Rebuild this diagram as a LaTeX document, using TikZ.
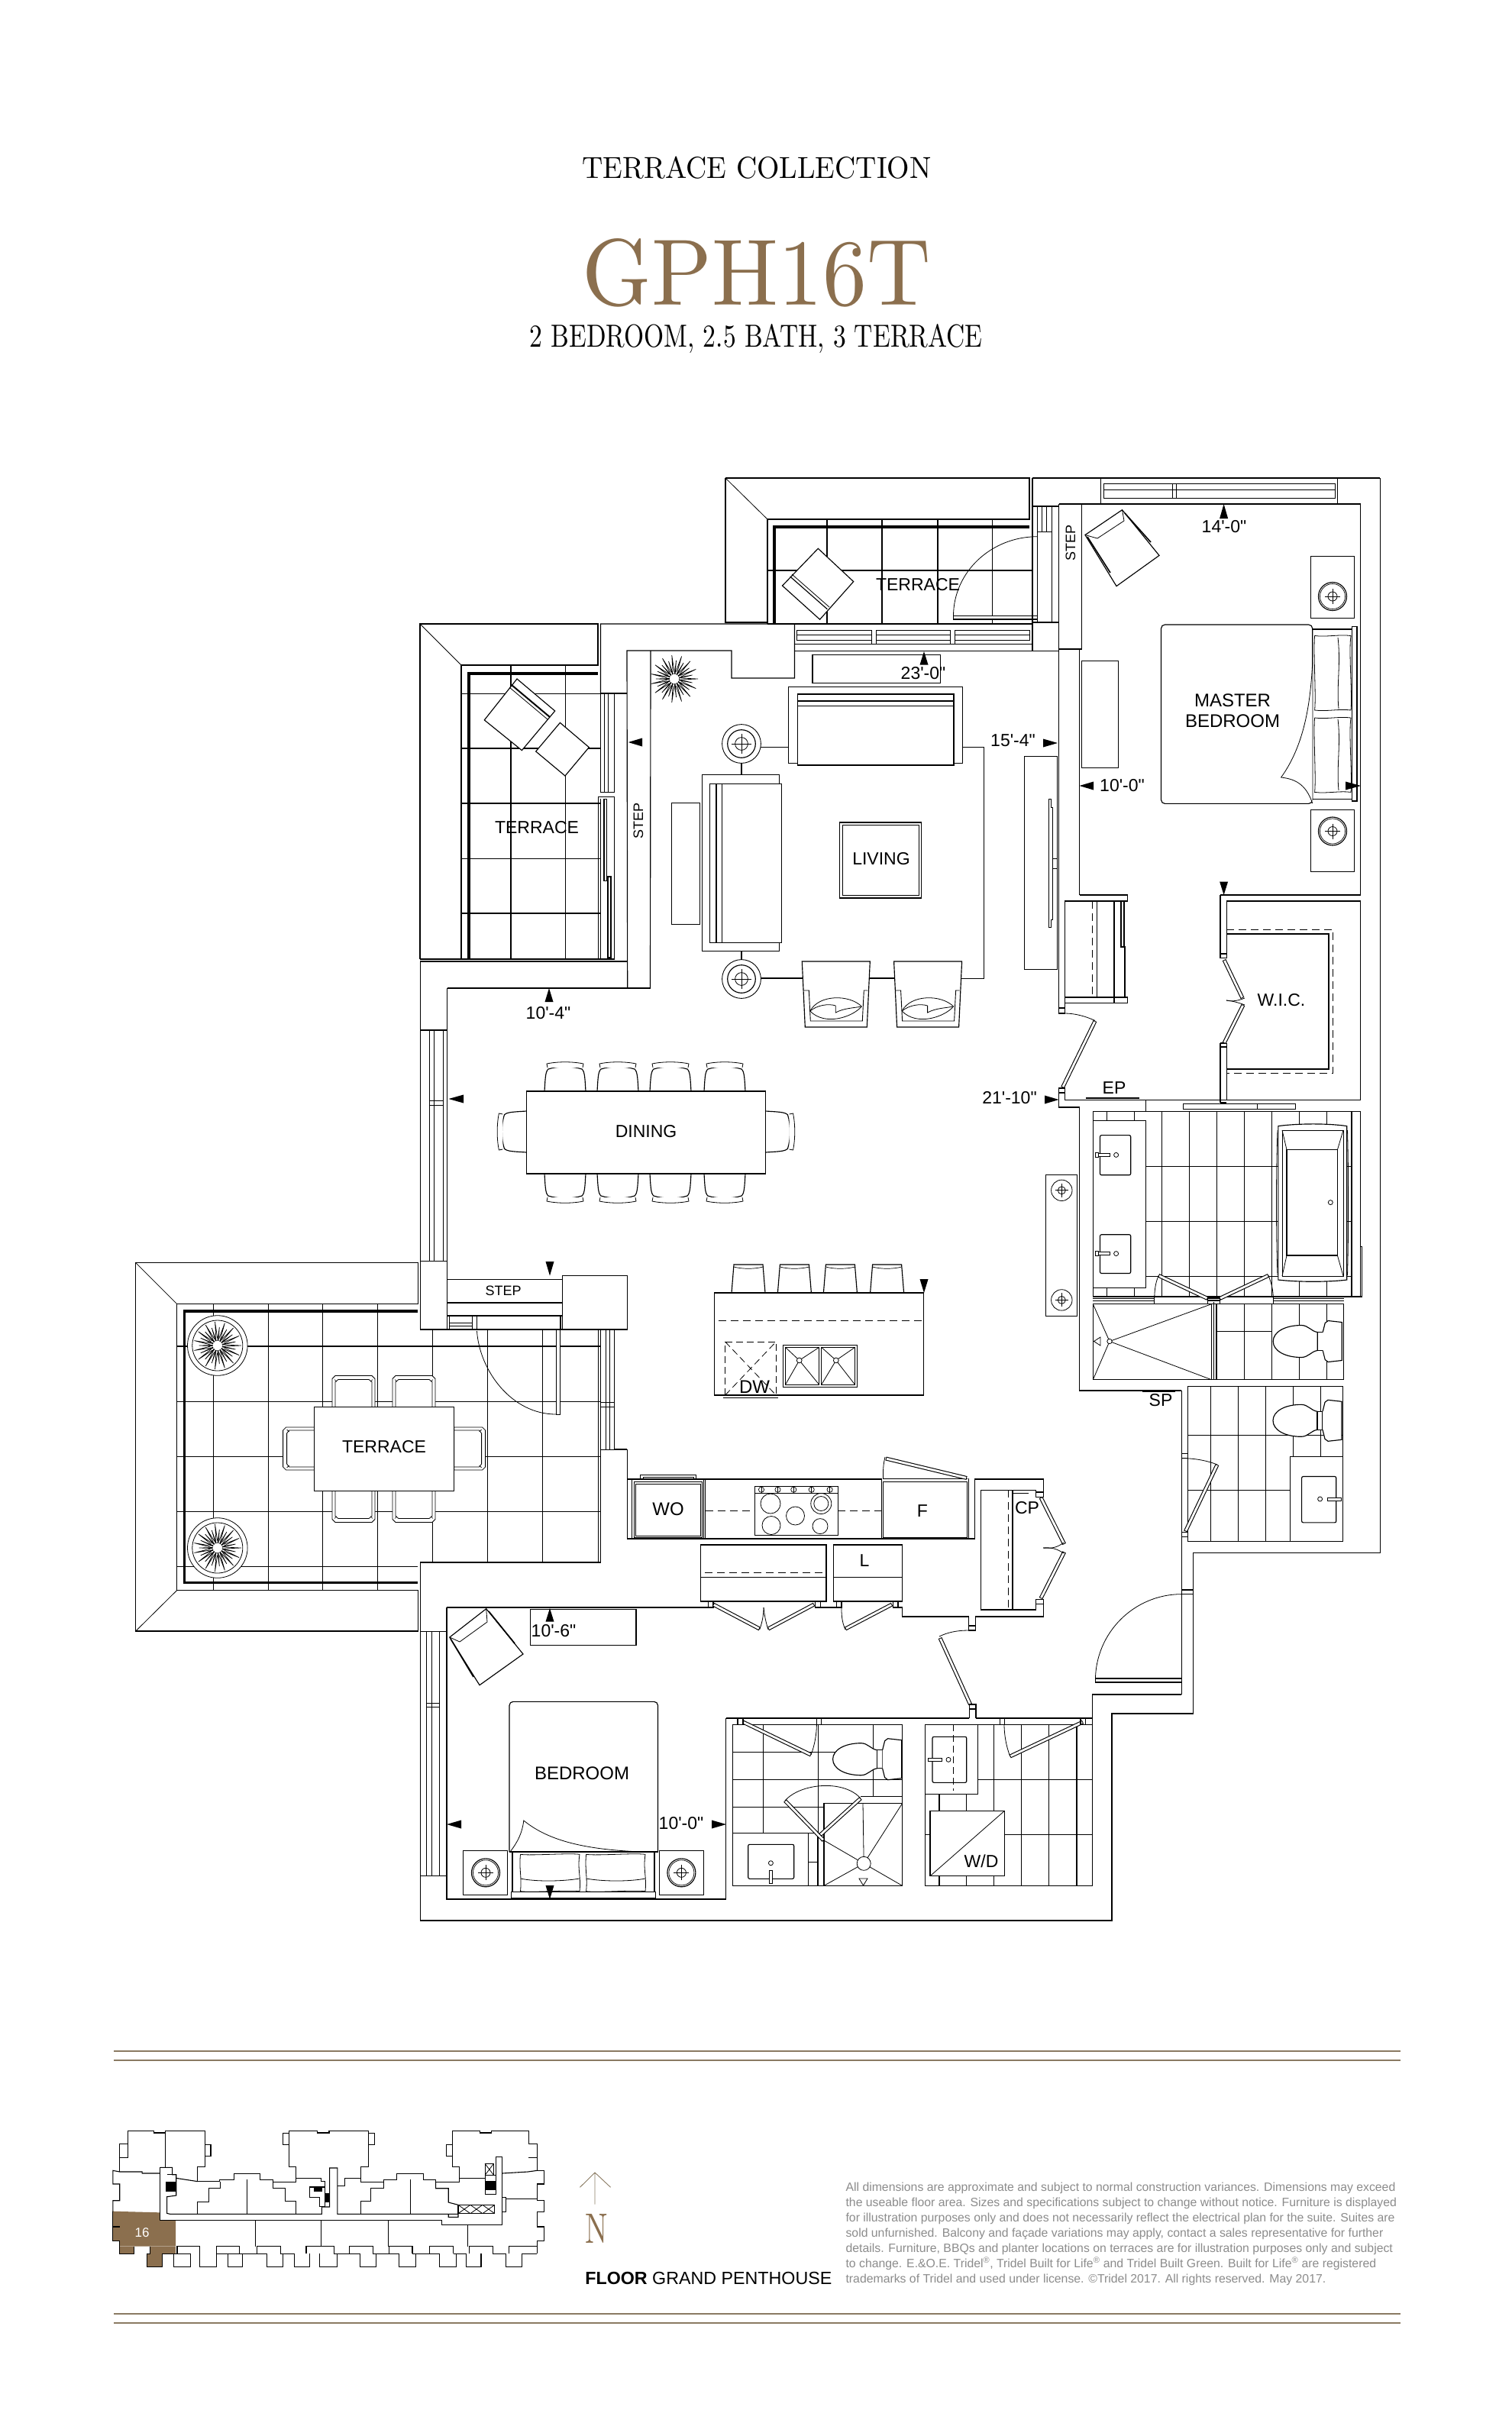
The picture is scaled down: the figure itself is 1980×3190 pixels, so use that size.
\documentclass[tikz,border=0pt]{standalone}
\usepackage{fontspec}
\usepackage{graphicx}
\newfontfamily\arialf{Liberation Sans}
\newfontfamily\discf{Liberation Sans}
\definecolor{brn}{HTML}{8B6F4E}
\definecolor{rulec}{HTML}{8A7A62}
\definecolor{discc}{HTML}{8C8C8C}
\newcommand{\Rc}[4]{\draw (#1,#2) rectangle (#3,#4);}
\newcommand{\Rt}[4]{\draw[line width=.8pt] (#1,#2) rectangle (#3,#4);}
\newcommand{\Rw}[4]{\draw[fill=white] (#1,#2) rectangle (#3,#4);}
\newcommand{\Ln}[4]{\draw (#1,#2) -- (#3,#4);}
\newcommand{\Lt}[4]{\draw[line width=.8pt] (#1,#2) -- (#3,#4);}
\newcommand{\Av}[3]{\fill (#1,#2) -- (#1-5.5,#3) -- (#1+5.5,#3) -- cycle;}
\newcommand{\Ah}[3]{\fill (#2,#1) -- (#3,#1-5.5) -- (#3,#1+5.5) -- cycle;}
\newcommand{\Dr}[4]{\draw[line width=5pt] (#1,#2)--(#3,#4); \draw[white,line width=2.8pt,shorten <=1pt,shorten >=1pt] (#1,#2)--(#3,#4);}
\newcommand{\Lamp}[3]{\draw[fill=white,line width=.9pt] (#1,#2) circle (#3); \draw[fill=white] (#1,#2) circle (#3*0.72); \draw[line width=.8pt] (#1,#2) circle (#3*0.33); \draw[line width=.8pt] (#1-#3*0.5,#2)--(#1+#3*0.5,#2) (#1,#2-#3*0.5)--(#1,#2+#3*0.5);}
\newcommand{\Dchair}[3]{\begin{scope}[shift={(#1,#2)},rotate=#3]
\draw[fill=white] (-27,0) .. controls (-26,-15) and (-26,-26) .. (-22,-29) .. controls (-10,-33) and (10,-33) .. (22,-29) .. controls (26,-26) and (26,-15) .. (27,0);
\draw[fill=white,line width=.8pt] (-23,-31) -- (-24,-36) .. controls (-10,-39) and (10,-39) .. (24,-36) -- (23,-31);
\end{scope}}
\newcommand{\Stool}[1]{\draw[fill=white] (#1-22,1693)--(#1-19,1656)--(#1+19,1656)--(#1+22,1693);
\draw[line width=.7pt] (#1-19,1659)..controls (#1-8,1662) and (#1+8,1662)..(#1+19,1659);}
\newcommand{\Tchair}[3]{\begin{scope}[shift={(#1,#2)},rotate=#3]
\draw[fill=white,line width=.8pt] (-28,0)--(-28,-37)--(-24,-41)--(24,-41)--(28,-37)--(28,0)--cycle;
\draw[line width=.8pt] (-24,0)--(-24,-33)--(-20,-36)--(20,-36)--(24,-33)--(24,0);
\draw[line width=.6pt] (-25,-36)--(-22,-33) (25,-36)--(22,-33);
\end{scope}}
\newcommand{\Lchair}[1]{\begin{scope}[shift={(#1,0)}]
\draw (0,1259)--(89,1259)--(85,1345)--(4,1345)--cycle;
\draw[line width=.9pt] (2,1297)--(9,1297)--(11,1337)--(79,1337)--(81,1297)--(86,1297);
\draw[line width=.8pt] (10.5,1324) .. controls (22,1302) and (62,1302) .. (78,1318) .. controls (66,1332) and (30,1344) .. (10.5,1324);
\draw[line width=.8pt] (10.5,1324) .. controls (20,1316) and (35,1314) .. (44,1317) -- (44,1326) .. controls (55,1320) and (68,1320) .. (78,1318);
\end{scope}}
\newcommand{\Toilet}[2]{\begin{scope}[shift={(#1,#2)}]
\draw[fill=white] (0,0) .. controls (0,-12) and (15,-21) .. (37,-21) .. controls (46,-21) and (50,-13) .. (58,-12) -- (58,12) .. controls (50,13) and (46,21) .. (37,21) .. controls (15,21) and (0,12) .. (0,0);
\draw[fill=white] (58,-12) rectangle (65,12);
\draw[fill=white] (65,-12) -- (68,-24) -- (72,-27) -- (90,-25) -- (90,25) -- (72,27) -- (68,24) -- (65,12);
\end{scope}}
\newcommand{\Plant}[3]{\begin{scope}[shift={(#1,#2)}]
\foreach \a in {0,24,...,336}{\draw[fill=white,line width=.7pt] (\a-6:#3*0.3) -- (\a:#3) -- (\a+6:#3*0.3);}
\foreach \a in {12,36,...,348}{\draw[fill=white,line width=.7pt] (\a-5:#3*0.2) -- (\a:#3*0.78) -- (\a+5:#3*0.2);}
\end{scope}}
\newcommand{\Pillow}[4]{\draw[line width=.8pt] (#1,#2) .. controls (#1+15,#2+2) and (#3-15,#2-2) .. (#3,#2) .. controls (#3-3,#2+20) and (#3+2,#4-20) .. (#3,#4) .. controls (#3-15,#4-2) and (#1+15,#4+2) .. (#1,#4) .. controls (#1+2,#4-20) and (#1-2,#2+20) .. (#1,#2);}
\begin{document}
\begin{tikzpicture}[x=1pt,y=-1pt,line width=1.15pt,
 lbl/.style={font=\arialf\fontsize{23}{23}\selectfont,inner sep=0pt},
 small/.style={font=\arialf\fontsize{18}{18}\selectfont,inner sep=0pt},
 th/.style={line width=3.2pt},
 thin/.style={line width=.8pt},
 dsh/.style={dash pattern=on 10pt off 6pt}]
\fill[white] (0,0) rectangle (1980,3190);
\useasboundingbox (0,0) rectangle (1980,3190);
%% titles
\node[anchor=base west,inner sep=0pt] (title1) at (762,233) {\resizebox{457pt}{28.5pt}{TERRACE COLLECTION}};
\node[anchor=base west,inner sep=0pt,text=brn] (title2) at (762,399) {\resizebox{456pt}{87pt}{GPH16T}};
\node[anchor=base west,inner sep=0pt] (title3) at (693,454) {\resizebox{593pt}{30pt}{2 BEDROOM, 2.5 BATH, 3 TERRACE}};
%% top terrace
\foreach \x in {1083,1155,1228,1299.5}{\Ln{\x}{680}{\x}{817}}
\Ln{1005}{747}{1352}{747}
\draw (950,626)--(1348,626)--(1348,680)--(1005,680)--(1005,817);
\draw (950,626)--(950,815)--(1005,815);
\draw[thin] (950,626)--(1005,680);
\draw[th] (1014,817)--(1014,690)--(1348,690);
\draw[fill=white] (1071.3,718.3)--(1117.7,761.6)--(1073.6,811.2)--(1024.5,767)--cycle;
\draw (1034.7,755)--(1083.4,797.8);
\draw[line width=.8pt] (1037,752)--(1086,795);
%% top terrace door
\draw[thin] (1248.5,806.7) arc[start angle=180,end angle=270,x radius=110,y radius=104];
\Rw{1248.5}{806.7}{1358.4}{811}
%% frame between terrace and master
\Ln{1352}{626}{1352}{852}
\Ln{1352}{626}{1807.4}{626}
\Ln{1352}{663}{1386.6}{663}
\Ln{1352}{815}{1386.6}{815}
\Rt{1358.4}{663}{1377}{815}
\Lt{1358.4}{696}{1377}{696}
\Lt{1364}{663}{1364}{696}
\Lt{1370}{663}{1370}{696}
\Ln{1005}{817}{1352}{817}
%% strip below top terrace
\Ln{1040.5}{852.2}{1386.6}{852.2}
\Rt{1043}{825.4}{1141.4}{838}
\Lt{1043}{831.7}{1141.4}{831.7}
\Rt{1147}{825.4}{1244.8}{838}
\Lt{1147}{831.7}{1244.8}{831.7}
\Rt{1250.6}{825.4}{1348.4}{838}
\Lt{1250.6}{831.7}{1348.4}{831.7}
\Ln{1040.5}{843.3}{1352}{843.3}
\Lt{1141.4}{838}{1141.4}{843.3}
\Lt{1147}{838}{1147}{843.3}
\Lt{1244.8}{838}{1244.8}{843.3}
\Lt{1250.6}{838}{1250.6}{843.3}
%% left terrace
\foreach \x in {669,740.5}{\Ln{\x}{871}{\x}{1256}}
\foreach \y in {908.5,980,1052,1124.5,1196}{\Ln{604}{\y}{786.5}{\y}}
\draw (550,1256)--(550,817)--(783,817)--(783,871)--(604,871)--(604,1256);
\draw[thin] (550,817)--(604,871);
\draw[th] (614,1256)--(614,882)--(783,882);
\Ln{550}{1256}{804.4}{1256}
\Ln{550}{1259}{821.7}{1259}
\draw[fill=white] (677,889)--(726.7,931)--(683.4,982.6)--(634.3,942.9)--cycle;
\draw[line width=.8pt] (667,900)--(717,942);
\draw[line width=2pt] (670,897)--(720,939);
\draw[fill=white] (733.4,946.4)--(771.3,978.6)--(740,1016)--(701.7,984)--cycle;
%% wall block
\draw (786.5,908)--(786.5,817)--(1040.5,817)--(1040.5,888)--(958,888)--(958,852)--(821,852)--(821.7,1294);
\Ln{852}{852}{851.5}{1294}
\Ln{786.5}{908}{821}{908}
\Ln{585.7}{1294}{851.5}{1294}
\Ln{821.7}{1259}{821.7}{1294}
\Rt{786.5}{908}{804}{1037.5}
\Lt{791.4}{908}{791.4}{1037.5}
\Lt{796}{908}{796}{1037.5}
\Rt{783.4}{1043}{804.4}{1256}
\Rc{791}{1046.4}{794.5}{1153.6}
\Rc{796}{1148}{800}{1254}
\Lt{786.5}{1046}{786.5}{1256}
\Plant{883}{889}{31}
\Ah{972}{822.7}{841}
\node[small,rotate=90] (stepa) at (836,1075) {STEP};
\node[lbl] (terl) at (703,1084) {TERRACE};
\node[lbl] (tert) at (1202,766) {TERRACE};
%% living
\Rc{1064}{857.6}{1231.5}{894.6}
\Ln{996}{978.6}{1032.5}{978.6}
\draw (1260.5,978.3)--(1288.3,978.3)--(1288.3,1281.4)--(1259,1281.4);
\Ln{971}{999}{971}{1014.3}
\Ln{971}{1245.5}{971}{1257}
\Ln{996}{1281}{1051}{1281}
\Ln{1139.4}{1281}{1170.6}{1281}
\Rc{1032.5}{899.5}{1260.5}{999.5}
\Rw{1044.5}{909}{1249}{1002}
\Ln{1044.5}{918}{1249}{918}
\Ln{1044.5}{924.5}{1249}{924.5}
\Rc{919.5}{1014.3}{1020.4}{1245.5}
\Rw{929.4}{1026.3}{1023.6}{1234.4}
\Ln{938}{1026.3}{938}{1234.4}
\Ln{945.4}{1026.3}{945.4}{1234.4}
\Rc{879.4}{1051.3}{916.4}{1210.3}
\Lamp{971}{974}{25.4}
\Lamp{971}{1282}{25.4}
\Rc{1099.5}{1077}{1206.6}{1176}
\Rt{1103}{1080.5}{1203}{1172.5}
\node[lbl] (liv) at (1154,1125) {LIVING};
\Lchair{1050.3}
\Lchair{1170.6}
\Rc{1341.4}{990.4}{1384.5}{1269.4}
\draw[line width=.9pt] (1373,1046.6)--(1376,1046.6)--(1376,1057)--(1378.5,1057)--(1378.5,1204)--(1376,1204)--(1376,1214.2)--(1373,1214.2)--cycle;
\Lt{1378.5}{1124}{1384.5}{1124}
\Lt{1378.5}{1137}{1384.5}{1137}
%% master bedroom
\draw (1386.6,660)--(1781.7,660)--(1781.7,1172)--(1598,1172);
\Ln{1386.6}{660}{1386.6}{1320}
\draw (1386.6,850)--(1416.4,850)--(1416.4,660);
\Ln{1413.5}{850}{1413.5}{1172}
\draw (1413.5,1172)--(1476.5,1172)--(1476.5,1180)--(1394.4,1180)--(1394.4,1313.6)--(1476.5,1313.6)--(1476.5,1306)--(1394.4,1306);
\Ln{1459}{1180}{1459}{1313.6}
\draw[dsh,thin] (1430.5,1180)--(1430.5,1306);
\Ln{1436.5}{1180}{1436.5}{1306}
\draw (1468,1180)--(1468,1240)--(1473,1240)--(1473,1306);
\draw (1472,1180)--(1472,1240);
\Rc{1386.6}{1320}{1394.4}{1327}
\Ln{1394.4}{1313.6}{1394.4}{1320}
\draw[thin] (1394.4,1327) .. controls (1408,1327) and (1422,1331) .. (1434,1336.5);
\Dr{1391.5}{1424}{1434}{1337}
\Rc{1386.6}{1425}{1394.4}{1431}
\draw (1394.4,1431)--(1394.4,1440.4)--(1781.7,1440.4);
\draw (1386.6,1431)--(1386.6,1450)--(1413.5,1450)--(1413.5,1821)--(1547.4,1821);
%% top window master
\Rc{1441.7}{626}{1751.4}{660}
\Rt{1445}{633}{1748}{652}
\Lt{1445}{641}{1748}{641}
\Rt{1535}{633}{1540}{652}
%% step master
\node[small,rotate=90] (stepb) at (1402,711) {STEP};
%% master furniture
\draw[fill=white] (1421,700.5)--(1469.5,667.7)--(1518,727.4)--(1462,767.6)--cycle;
\draw[line width=.8pt] (1421,700.5)--(1437,705)--(1472,682)--(1469.5,667.7);
\draw[line width=1.6pt] (1424,703)--(1454,750);
\draw[line width=1.6pt] (1473,672)--(1507,710);
\Rc{1416.4}{865.2}{1464.5}{1005.3}
\draw[rounded corners=5pt] (1520.5,818) rectangle (1718.7,1052.4);
\draw[line width=.8pt,fill=white] (1718.7,867) .. controls (1716,930) and (1705,980) .. (1677.6,1018) .. controls (1695,1020) and (1710,1026) .. (1718.7,1052);
\draw (1718.7,824)--(1770.5,824) (1718.7,1046.6)--(1770.5,1046.6);
\Rc{1770.5}{820.4}{1777}{1049}
\Pillow{1721.6}{832.5}{1769}{930}
\Pillow{1721.6}{940}{1769}{1037.4}
\draw[line width=.8pt] (1752,835)..controls (1756,870) and (1750,900) ..(1753,928);
\draw[line width=.8pt] (1752,942)..controls (1756,975) and (1750,1005) ..(1753,1035);
\Rc{1716.6}{728.6}{1773.8}{809.5}
\Rc{1716.6}{1060.4}{1773.8}{1141.3}
\foreach \y in {781,1088.5}{\draw (1745,\y) circle (18.5); \draw[line width=.7pt] (1745,\y) circle (16.5); \draw[thin] (1745,\y) circle (6); \draw[thin] (1735,\y)--(1755,\y) (1745,\y-10)--(1745,\y+10);}
\node[lbl,font=\arialf\fontsize{24}{24}\selectfont] (mast) at (1614,917) {MASTER};
\node[lbl,font=\arialf\fontsize{24}{24}\selectfont] (bedr) at (1614,944) {BEDROOM};
%% WIC
\draw (1606.3,1254.5)--(1606.3,1180)--(1781.7,1180)--(1781.7,1440.4);
\draw (1598,1172)--(1598,1254.5)--(1606.3,1254.5);
\Ln{1598}{1249}{1606.3}{1249}
\draw (1606.3,1366)--(1606.3,1440.4);
\draw (1598,1366)--(1606.3,1366);
\Ln{1598}{1366}{1598}{1444}
\Ln{1598}{1444}{1606.3}{1444}
\Ln{1598}{1371}{1606.3}{1371}
\draw (1606,1223)--(1740,1223)--(1740,1400)--(1606,1400);
\draw[dsh,thin] (1606,1217)--(1745.6,1217)--(1745.6,1405.4)--(1606,1405.4);
\Dr{1603}{1257}{1627}{1307}
\Dr{1603}{1366}{1628}{1316}
\draw[thin] (1606,1310) .. controls (1615,1312) and (1622,1310) .. (1630,1307);
\draw[thin] (1606,1310) .. controls (1615,1311) and (1622,1313) .. (1630,1316);
\node[lbl] (wic) at (1678,1310) {W.I.C.};
%% EP and rods
\Ln{1422.2}{1438}{1491.5}{1438}
\node[lbl] (ep) at (1459,1425) {EP};
\Rt{1549.5}{1445.5}{1696.3}{1452.6}
\Lt{1646.5}{1445.5}{1646.5}{1452.6}
\Ln{1598}{1455.5}{1696}{1455.5}
\Ln{1500.6}{1440.4}{1500.6}{1455.5}
%% master bath
\foreach \x in {1521.3,1557.4,1593.4,1629.5,1665.6,1701.7,1737.7,1770}{\Ln{\x}{1455.5}{\x}{1698}}
\foreach \y in {1527.8,1599.5,1671.3}{\Ln{1500.6}{\y}{1770}{\y}}
\Rc{1431.3}{1455.5}{1781.7}{1698}
\draw (1781.7,1632.5)--(1783.8,1632.5)--(1783.8,1698)--(1781.7,1698);
\foreach \x in {1449.6,1485.7}{\Ln{\x}{1455.5}{\x}{1467.5} \Ln{\x}{1686.6}{\x}{1698}}
\Rw{1431.3}{1467.5}{1500.6}{1686.6}
\foreach \y/\z/\d in {1486.6/1538.8/1512.4,1616.7/1667.5/1641.6}{
 \draw[rounded corners=2pt] (1440.5,\y) rectangle (1480.7,\z);
 \draw[thin] (1461.6,\d) circle (3);
 \draw[thin,fill=white] (1436,\d-2)--(1453,\d-2)--(1453,\d+2)--(1436,\d+2)--cycle;
 \draw[thin,fill=white] (1434.2,\d-3) rectangle (1438,\d+3);}
\draw[fill=white] (1673.9,1474.6) .. controls (1700,1471) and (1740,1471) .. (1763.8,1474.6) -- (1763.8,1676) .. controls (1740,1679) and (1700,1679) .. (1673.9,1676) -- cycle;
\draw[thin] (1673,1480) .. controls (1671,1530) and (1671,1620) .. (1673,1670) (1764.5,1480) .. controls (1766,1530) and (1766,1620) .. (1764.5,1670);
\draw[thin] (1679,1480)--(1759,1480)--(1759,1671)--(1679,1671)--cycle;
\Rc{1685}{1505.7}{1751.4}{1644}
\Lt{1679}{1480}{1685}{1505.7}
\Lt{1759}{1480}{1751.4}{1505.7}
\Lt{1679}{1671}{1685}{1644}
\Lt{1759}{1671}{1751.4}{1644}
\draw[thin] (1742.3,1574.6) circle (3);
%% shower & WC
\Rc{1431.3}{1707.7}{1759.7}{1806.7}
\draw (1431.3,1700.5)--(1511.8,1700.5) (1431.3,1703.5)--(1511.8,1703.5);
\draw (1667.3,1700.5)--(1759.7,1700.5) (1667.3,1703.5)--(1759.7,1703.5);
\Ln{1511.8}{1698}{1511.8}{1707.7}
\Ln{1667.3}{1698}{1667.3}{1707.7}
\Ln{1581.4}{1700}{1597.2}{1700}
\Ln{1581.4}{1703}{1597.2}{1703}
\Ln{1581.4}{1698}{1581.4}{1707.7}
\Ln{1597.2}{1698}{1597.2}{1707.7}
\Ln{1586.4}{1707.7}{1586.4}{1806.7}
\Ln{1589.5}{1705}{1589.5}{1806.7}
\Ln{1593}{1707.7}{1593}{1806.7}
\Dr{1517.2}{1670.3}{1581.4}{1700.5}
\Dr{1597.2}{1700.5}{1661}{1670.3}
\draw[thin] (1517.2,1670.3) .. controls (1513,1680) and (1511.8,1690) .. (1511.8,1700);
\draw[thin] (1661,1670.3) .. controls (1665,1680) and (1667.3,1690) .. (1667.3,1700);
\foreach \x/\y in {1431.3/1707.7,1431.3/1806.7,1586.4/1707.7,1586.4/1806.7}{\draw[thin] (1453,1756.5)--(\x,\y);}
\draw[thin,fill=white] (1453,1756.5) circle (3.2);
\draw[thin] (1441,1751)--(1432.5,1756.5)--(1441,1762)--cycle;
\foreach \x in {1629.5,1665.6,1701.7,1737.7}{\Ln{\x}{1707.7}{\x}{1806.7}}
\Ln{1593}{1743.5}{1665.6}{1743.5}
\Toilet{1667.2}{1756.5}
%% console
\Rc{1369.6}{1538.8}{1410.6}{1723.4}
\foreach \y in {1558.8,1702.4}{\draw[thin] (1390.3,\y) circle (13.7); \draw[thin] (1390.3,\y) circle (5); \draw[thin] (1382,\y)--(1398.5,\y) (1390.3,\y-9)--(1390.3,\y+9);}
%% powder
\Ln{1496.4}{1822.5}{1538.7}{1822.5}
\node[lbl] (sp) at (1520,1834) {SP};
\foreach \x in {1585.6,1621.6,1657.7,1693.8,1729.4}{\Ln{\x}{1815.8}{\x}{2018.7}}
\Ln{1555.3}{1879.4}{1758.5}{1879.4}
\Ln{1555.3}{1951.7}{1689.6}{1951.7}
\Rc{1555.3}{1815.8}{1758.5}{2018.7}
\Rw{1689.6}{1907.2}{1758.5}{2018.7}
\draw[rounded corners=2pt] (1704.6,1933.5) rectangle (1749.8,1993.8);
\draw[thin] (1728.6,1963) circle (3);
\draw[thin,fill=white] (1738,1961)--(1756,1961)--(1756,1965)--(1738,1965)--cycle;
\Toilet{1667}{1860.3}
\Rc{1547.4}{1903.3}{1555.3}{1909.6}
\Rc{1547.4}{2006.7}{1555.3}{2012.4}
\draw[thin] (1547.4,1909.6) .. controls (1565,1909.6) and (1582,1913) .. (1594,1918);
\Dr{1552.4}{2005.3}{1594}{1918}
%% entrance
\Ln{1547.4}{1821}{1547.4}{2219}
\draw (1807.4,626)--(1807.4,2033.5)--(1562.8,2033.5)--(1562.8,2244)--(1456,2244)--(1456,2515)--(550.5,2515)--(550.5,2046);
\Ln{1547.4}{2082}{1562.8}{2082}
\Ln{1547.4}{2087.6}{1562.8}{2087.6}
\draw[thin] (1547.4,2087.6) arc[start angle=270,end angle=180,radius=113];
\Rc{1434.4}{2198}{1547.4}{2203}
\draw (1547.4,2219)--(1430.6,2219)--(1430.6,2258);
%% kitchen walls
\draw (821.4,1898)--(821.4,2015)--(1276.5,2015)--(1276.5,1937)--(1366.7,1937)--(1366.7,1954);
\Rc{1356.8}{1954}{1366.7}{1960.4}
\Rc{1356.8}{2094.3}{1366.7}{2100.4}
\draw (1366.7,2100.4)--(1366.7,2117)--(1277.4,2117)--(1277.4,2129);
\draw (1356.8,1954)--(1356.8,1951.4)--(1284.4,1951.4)--(1284.4,2108)--(1356.8,2108)--(1356.8,2100.4);
\Ln{1326}{1951.4}{1326}{2108}
\draw[dsh,thin] (1320.3,1951.4)--(1320.3,2108);
\Lt{1326}{1955}{1347}{1955}
\Dr{1363}{1961}{1393.6}{2022}
\Dr{1363}{2093}{1393.6}{2032.5}
\draw[thin] (1366,2027) .. controls (1376,2028) and (1384,2027) .. (1393,2020);
\draw[thin] (1366,2027) .. controls (1376,2026) and (1384,2028) .. (1393,2034);
\node[lbl] (cp) at (1345,1975) {CP};
%% WO, cooktop
\Rt{827.7}{1937}{921.8}{2015}
\Rt{830}{1940}{919.6}{2013}
\Rt{832.5}{1943.6}{917.5}{2011.8}
\draw[line width=.8pt] (838.5,1937)--(838.5,1931.4)--(911.4,1931.4)--(911.4,1937);
\draw[line width=.8pt] (842,1937)--(842,1934.4)--(908,1934.4)--(908,1937);
\Ln{923.5}{1937}{923.5}{2015}
\Ln{821.7}{1937}{1154.7}{1937}
\Ln{821.4}{1937}{821.4}{2015}
\node[lbl,font=\arialf\fontsize{24}{24}\selectfont] (wo) at (875,1976) {WO};
\draw[dsh,thin] (923.5,1978)--(988.6,1978);
\draw[dsh,thin] (1097.4,1978)--(1154.7,1978);
\Rc{988.6}{1946.4}{1097.4}{2010.7}
\Ln{988.6}{1955.7}{1097.4}{1955.7}
\foreach \x in {997,1018.5,1039.3,1062.7,1086.6}{\draw[line width=.7pt] (\x,1950.7) circle (3.6); \draw[line width=.7pt] (\x,1947)--(\x,1954.5);}
\draw[thin] (1009,1969) circle (13);
\draw[thin] (1010,1997.5) circle (12);
\draw[thin] (1041.5,1985) circle (12);
\draw[thin] (1075.3,1969) circle (13.5);
\draw[thin] (1075.3,1969) circle (9.5);
\draw[thin] (1074,1998.6) circle (10);
%% fridge
\Ln{1154.7}{1937}{1154.7}{2015}
\Rt{1156.4}{1940}{1266.5}{2013}
\Lt{1156.4}{1936}{1266.5}{1936}
\Ln{1268.7}{1936}{1268.7}{2015}
\Dr{1160}{1910}{1266}{1935.5}
\draw[thin] (1159,1908) .. controls (1156.5,1918) and (1156.4,1926) .. (1156.4,1936);
\node[lbl] (fr) at (1208,1979) {F};
%% closets
\Rc{917.5}{2023}{1082}{2097}
\Ln{917.5}{2065.7}{1082}{2065.7}
\draw[dsh,thin] (923,2059.6)--(1082,2059.6);
\Rc{1091.4}{2023}{1181.5}{2097}
\Ln{1091.4}{2065.7}{1181.5}{2065.7}
\node[lbl] (lc) at (1132,2044) {L};
\Ln{585}{2105}{927.4}{2105}
\Rc{927.4}{2097}{934}{2105}
\Rc{1067.5}{2097}{1074.4}{2105}
\Ln{1074.4}{2105}{1095.7}{2105}
\Rc{1095.7}{2097}{1102}{2105}
\Rc{1169.4}{2097}{1176}{2105}
\draw (1176,2105)--(1181.5,2105)--(1181.5,2117)--(1268.7,2117)--(1268.7,2129);
\Dr{934}{2101}{994.7}{2133}
\Dr{1066}{2101}{1006}{2133}
\draw[thin] (994.7,2134) .. controls (998,2125) and (1000,2115) .. (1000,2105);
\draw[thin] (1006,2134) .. controls (1003,2125) and (1001,2115) .. (1000,2105);
\Dr{1168}{2101}{1107}{2133}
\draw[thin] (1107,2134) .. controls (1102,2123) and (1102,2113) .. (1102,2105);
\Rc{1268.7}{2129}{1277.4}{2135}
\draw[thin] (1268.7,2135) .. controls (1252,2135) and (1240,2138) .. (1230,2143);
\Dr{1231}{2145}{1270.6}{2232}
\Rc{1269.4}{2232}{1278}{2238}
\Ln{1269.4}{2238}{1269.4}{2250}
\Ln{1278}{2238}{1278}{2250}
\Ln{950.6}{2250}{1269.4}{2250}
\Ln{1278}{2250}{1430.6}{2250}
%% island
\foreach \x in {980,1040.4,1100.4,1161.6}{\Stool{\x}}
\Rc{935.2}{1693}{1209.7}{1827}
\draw[dsh,thin] (940.5,1729.3)--(1207,1729.3);
\draw[dash pattern=on 9pt off 5pt,thin] (949.6,1827)--(949.6,1757)--(1016.3,1757)--(1016.3,1827);
\draw[dash pattern=on 9pt off 5pt,thin] (949.6,1827)--(1016.3,1757);
\draw[dash pattern=on 9pt off 5pt,thin] (949.6,1757)--(1016.3,1827);
\Ln{946.5}{1830.7}{1019.4}{1830.7}
\node[lbl,font=\arialf\fontsize{24}{24}\selectfont] (dw) at (988,1816) {DW};
\Rc{1025.4}{1761.4}{1122.6}{1816.4}
\Rt{1028.5}{1764.3}{1072.7}{1813.2}
\Rt{1075.7}{1764.3}{1119.6}{1813.2}
\foreach \c/\l/\r in {1046.7/1028.5/1072.7,1094.8/1075.7/1119.6}{
 \draw[thin] (\c,1781.4)--(\l,1764.3) (\c,1781.4)--(\r,1764.3) (\c,1781.4)--(\l,1813.2) (\c,1781.4)--(\r,1813.2);
 \draw[thin,fill=white] (\c,1781.4) circle (3.4);}
%% dining
\foreach \x in {740,809,878,949}{\Dchair{\x}{1429}{0}\Dchair{\x}{1537}{180}}
\Dchair{689.4}{1482}{90}
\Dchair{1002.5}{1482}{-90}
\Rw{689.4}{1429}{1002.5}{1537}
\node[lbl] (din) at (846,1482) {DINING};
%% left wall & window
\draw (550.3,1259)--(550.3,1741)--(821.7,1741);
\Ln{585.7}{1294}{585.7}{1741}
\Ln{550.3}{1349}{585.7}{1349}
\Ln{550.3}{1651.3}{585.7}{1651.3}
\Rt{562.7}{1349}{580.6}{1651}
\Lt{568.2}{1349}{568.2}{1651}
\Rt{562.7}{1441.7}{580.6}{1447.3}
\Rc{585.7}{1675.2}{736.3}{1706}
\Ln{585.7}{1723}{736.3}{1723}
\Rw{736.3}{1670.2}{821.7}{1741}
\Lt{588}{1723}{588}{1741}
\Lt{618.7}{1723}{618.7}{1741}
\Lt{588}{1732}{618.7}{1732}
\Lt{588}{1736}{618.7}{1736}
\Ln{624.7}{1723}{624.7}{1741}
\Ln{734}{1723}{734}{1741}
\node[small] (stepc) at (659,1690) {STEP};
%% big terrace
\foreach \x in {279.5,351.3,422.8,494.6}{\Ln{\x}{1707.5}{\x}{2082.5}}
\foreach \x in {566.5,638.4,710.7}{\Ln{\x}{1741}{\x}{2046}}
\foreach \y in {1763,1835.7,1907.5,1979.3}{\Ln{231.7}{\y}{786.6}{\y}}
\Ln{231.7}{2051.4}{547.3}{2051.4}
\draw (177.7,1653.6)--(547.3,1653.6)--(547.3,1707.5)--(231.7,1707.5)--(231.7,2082.5)--(547.3,2082.5)--(547.3,2136)--(177.7,2136)--cycle;
\draw[thin] (177.7,1653.6)--(231.7,1707.5) (177.7,2136)--(231.7,2082.5);
\draw[th] (547.3,1717)--(241.5,1717)--(241.5,2072.5)--(547.3,2072.5);
\foreach \y in {1762,2027}{\draw[fill=white,thin] (284.8,\y) circle (39.3); \draw[fill=white,thin] (284.8,\y) circle (33); \Plant{284.8}{\y}{31}}
\draw (550.4,2046)--(786.6,2046)--(786.6,1741);
\Lt{783}{1741}{783}{2046}
\Rt{786.6}{1741}{804.5}{1898}
\Lt{793}{1741}{793}{1898}
\Lt{798}{1741}{798}{1898}
\Rt{786.6}{1836}{804.5}{1842}
\Ln{804.5}{1898}{821.4}{1898}
\draw[thin] (624.5,1743) .. controls (628,1795) and (670,1852) .. (728,1852);
\draw[fill=white,thin] (728,1741) rectangle (733.5,1852);
\Tchair{463}{1842.5}{0}
\Tchair{542}{1842.5}{0}
\Tchair{463}{1952.5}{180}
\Tchair{542}{1952.5}{180}
\Tchair{411.6}{1897}{90}
\Tchair{594.6}{1897}{-90}
\Rw{411.6}{1842.5}{594.6}{1952.5}
\node[lbl] (terb) at (503,1895) {TERRACE};
%% bedroom
\Ln{550.5}{2136.7}{585}{2136.7}
\Ln{550.5}{2456.7}{585}{2456.7}
\draw (585,2105)--(585,2487)--(950.6,2487)--(950.6,2250);
\Rt{558}{2136.7}{575.5}{2456.7}
\Lt{565}{2136.7}{565}{2456.7}
\Rt{558}{2230}{575.5}{2235}
\Rc{694.8}{2107.3}{833}{2154.3}
\draw[fill=white] (588.8,2144)--(636.7,2106.7)--(685,2166)--(628,2206.7)--cycle;
\draw[line width=.8pt] (588.8,2144)--(602,2150)--(638,2124)--(636.7,2106.7);
\draw[line width=1.6pt] (590,2146)--(620,2196);
\draw[line width=1.6pt] (640,2110)--(674,2152);
\draw[rounded corners=5pt] (667,2425) -- (667,2228.3) -- (861.5,2228.3) -- (861.5,2425);
\Ln{667}{2425}{861.5}{2425}
\draw[line width=.8pt] (668,2425) .. controls (678,2412) and (684,2400) .. (685.8,2384) .. controls (720,2412) and (770,2422) .. (839,2425);
\draw (671,2425)--(671,2477) (857,2425)--(857,2477);
\Rc{669.4}{2477.3}{858.5}{2485.3}
\Pillow{681.5}{2428.3}{759}{2476.7}
\Pillow{767.6}{2428.3}{845}{2476.7}
\draw[line width=.8pt] (681.5,2460)..controls (700,2464) and (735,2464) ..(759,2460);
\draw[line width=.8pt] (767.6,2460)..controls (790,2464) and (825,2464) ..(845,2460);
\Rc{606.4}{2423.3}{664.5}{2481.7}
\Rc{863.3}{2423.3}{921.5}{2481.7}
\foreach \x in {636,892.4}{\draw (\x,2452.3) circle (18.5); \draw[line width=.7pt] (\x,2452.3) circle (16.5); \draw[thin] (\x,2452.3) circle (6); \draw[thin] (\x-10,2452.3)--(\x+10,2452.3) (\x,2442.3)--(\x,2462.3);}
\node[lbl,font=\arialf\fontsize{24}{24}\selectfont] (bed) at (762,2322) {BEDROOM};
%% bath 3
\foreach \x in {999.7,1071.2,1143.3}{\Ln{\x}{2258.3}{\x}{2469.3}}
\foreach \y in {2294.3,2330.3,2366.3}{\Ln{959.7}{\y}{1181.5}{\y}}
\Rc{959.7}{2258.3}{1181.5}{2469.3}
\Rw{959.7}{2400.3}{1058.5}{2469.3}
\draw[rounded corners=2pt] (979.7,2415.3) rectangle (1039.7,2460.3);
\draw[thin] (1009.4,2439.7) circle (3);
\draw[thin,fill=white] (1007.5,2449)--(1011.5,2449)--(1011.5,2466)--(1007.5,2466)--cycle;
\Rw{1058.5}{2400.3}{1070.6}{2469.3}
\Ln{1058.5}{2438.3}{1070.6}{2438.3}
\Rw{1079}{2361.7}{1181.5}{2469.3}
\draw[fill=white] (1127,2352.3)--(1181.5,2352.3)--(1181.5,2361.7)--(1130,2361.7);
\foreach \x/\y in {1079/2410,1079/2469.3,1181.5/2469.3,1181.5/2361.7,1130/2361.7}{\draw[thin] (1131.2,2440.3)--(\x,\y);}
\draw[thin,fill=white] (1131.2,2440.3) ellipse (9 and 9);
\draw[thin] (1125,2460)--(1136,2460)--(1130.5,2469)--cycle;
\draw[thin] (1028,2358) .. controls (1048,2335) and (1105,2330) .. (1127,2355);
\Dr{1028}{2358}{1078.5}{2410}
\Dr{1127}{2355}{1074}{2403}
\Toilet{1090.6}{2303.7}
\Dr{973}{2255}{1062}{2298}
\draw[thin] (1062,2298) .. controls (1067,2285) and (1069.4,2270) .. (1069.4,2258);
\Rc{966}{2250}{973}{2258.3}
\Rc{1069.4}{2250}{1075.5}{2258.3}
%% laundry bath
\foreach \x in {1230,1265.8,1301.5,1337.9,1373.6,1410}{\Ln{\x}{2258.3}{\x}{2469.3}}
\Ln{1211.8}{2330.3}{1430.6}{2330.3}
\Ln{1211.8}{2402.3}{1430.6}{2402.3}
\Rc{1211.8}{2258.3}{1430.6}{2469.3}
\Rw{1211.8}{2258.3}{1280.9}{2349.3}
\draw[rounded corners=2pt] (1221,2274.3) rectangle (1265.8,2334.3);
\draw[dash pattern=on 9pt off 5pt,thin] (1248,2258.3)--(1248,2345);
\draw[thin] (1242,2304.3) circle (3);
\draw[thin,fill=white] (1215,2302)--(1233,2302)--(1233,2306.5)--(1215,2306.5)--cycle;
\Rw{1218}{2371.3}{1315.5}{2456.7}
\draw[thin] (1218,2456.7)--(1315.5,2371.3);
\node[lbl] (wd) at (1285,2437) {W/D};
\Dr{1418}{2255}{1322.7}{2300}
\draw[thin] (1322.7,2300) .. controls (1317,2285) and (1315,2270) .. (1315,2258);
\Rc{1309.7}{2250}{1315.5}{2258.3}
\Rc{1415}{2250}{1421.5}{2258.3}
%% dimensions
\node[lbl] (d14) at (1603,690) {14'-0"};
\node[lbl] (d23) at (1209,882) {23'-0"};
\node[lbl] (d15) at (1326.5,970) {15'-4"};
\node[lbl] (d10m) at (1469.5,1029) {10'-0"};
\node[lbl] (d21) at (1322,1438) {21'-10"};
\node[lbl] (d104) at (718,1327) {10'-4"};
\node[lbl] (d106) at (725,2136) {10'-6"};
\node[lbl] (d10b) at (892,2388) {10'-0"};
\Av{1210}{853}{870.5}
\Av{1602.6}{660}{679}
\Ah{973}{1385}{1366}
\Ah{1029}{1413.5}{1432}
\Ah{1029}{1782}{1762}
\Av{1602.6}{1172}{1154.5}
\Ah{1440}{1386.6}{1368}
\Av{719}{1294}{1312}
\Ah{1439}{587.5}{607}
\Av{720}{1670.6}{1652}
\Av{1210}{1693}{1675}
\Av{720}{2106}{2123.6}
\Ah{2389}{585}{604}
\Ah{2389}{951}{932}
\Av{720}{2487}{2469}
%% footer rules
\draw[rulec,line width=1.3pt] (149,2686)--(1834,2686) (149,2698)--(1834,2698) (149,3030)--(1834,3030) (149,3042)--(1834,3042);
%% north
\draw[rulec,line width=.9pt] (779,2886.7)--(779,2845) (759.5,2864.3)--(779,2845)--(799.6,2864.3);
\node[anchor=base west,inner sep=0pt,text=brn] (nor) at (765.8,2937.7) {\resizebox{29.5pt}{38pt}{N}};
\node[anchor=base west,inner sep=0pt] (floor) at (765.8,2991.7) {\resizebox{323pt}{!}{\arialf\fontsize{23}{23}\selectfont \textbf{FLOOR} GRAND PENTHOUSE}};
%% disclaimer
\node[anchor=north west,inner sep=0pt,text=discc,align=left,font=\discf\fontsize{15.8}{20}\selectfont] (disc) at (1107,2857) {All dimensions are approximate and subject to normal construction variances. Dimensions may exceed\\
the useable floor area. Sizes and specifications subject to change without notice. Furniture is displayed\\
for illustration purposes only and does not necessarily reflect the electrical plan for the suite. Suites are\\
sold unfurnished. Balcony and fa\c{c}ade variations may apply, contact a sales representative for further\\
details. Furniture, BBQs and planter locations on terraces are for illustration purposes only and subject\\
to change. E.\&O.E. Tridel\textsuperscript{\textregistered}, Tridel Built for Life\textsuperscript{\textregistered} and Tridel Built Green. Built for Life\textsuperscript{\textregistered} are registered\\
trademarks of Tridel and used under license. \textcopyright Tridel 2017. All rights reserved. May 2017.};
%% key plan
\begin{scope}[shift={(130,2680)},xscale=1/1.568,yscale=1/3,line width=1.1pt]
\fill[brn] (27,647)--(125,652)--(125,682)--(157,682)--(157,785)--(42,785)--(42,763)--(27,763)--cycle;
\fill[brn] (42,785) rectangle (72,814);
\fill[brn] (104,785) rectangle (157,814);
\fill[brn] (98,814) rectangle (130,866);
\draw (28,650)--(28,605)--(42,605)--(42,540)--(28,540)--(28,487)--(42,492)--(88,492)--(88,498)--(125,498);
\draw (42,492)--(42,382)--(59,382)--(59,331)--(112,331)--(112,339)--(136,339)--(136,331)--(217,331)--(217,473)--(202,473)--(202,530)--(247,530)--(247,523)--(277,523)--(277,499)--(330,499)--(330,523)--(357,523)--(357,532)--(404,532)--(404,473)--(389,473)--(389,331)--(447,331)--(447,339)--(472,339)--(472,331)--(553,331)--(553,473)--(537,473)--(537,532)--(584,532)--(584,523)--(611,523)--(611,499)--(665,499)--(665,523)--(691,523)--(691,532)--(739,532)--(739,473)--(725,473)--(725,331)--(782,331)--(782,339)--(805,339)--(805,331)--(882,331)--(882,382)--(899,382)--(899,487)--(913,487)--(913,540)--(899,540)--(899,605)--(913,605)--(913,650)--(899,650)--(899,708)--(913,708)--(913,763)--(899,763)--(899,814);
\draw (217,385)--(229,385)--(229,430)--(217,430);
\draw (389,340)--(377,340)--(377,385)--(389,385);
\draw (553,340)--(565,340)--(565,385)--(553,385);
\draw (725,385)--(713,385)--(713,430)--(725,430);
\draw (882,437)--(899,437);
\draw (42,437)--(59,437);
\draw (59,382)--(59,437);
\draw[thin] (135,340)--(135,475);
\draw (125,475)--(125,682)--(703,682)--(703,700)--(827,700)--(827,434)--(814,434)--(814,505);
\draw (125,475)--(150,475)--(150,503)--(158,503)--(158,585)--(139,590)--(139,655)--(145,658)--(457,658)--(457,630)--(473,630)--(473,477)--(489,477)--(489,658)--(737,658)--(737,670)--(717,670)--(717,660);
\draw (202,530)--(158,517);
\draw (139,503)--(150,503);
\draw (201,658)--(201,610)--(225,610)--(225,557)--(248,557)--(248,530);
\draw[thin] (303,523)--(303,658);
\draw (357,532)--(357,557)--(382,557)--(382,607)--(404,607)--(404,658);
\draw (404,517)--(455,517)--(455,530)--(463,530)--(463,552);
\draw (537,658)--(537,607)--(558,607)--(558,557)--(584,557)--(584,532);
\draw (489,548)--(504,548)--(504,517)--(537,517);
\draw[thin] (639,523)--(639,658);
\draw (691,532)--(691,557)--(717,557)--(717,612)--(737,622);
\draw (739,517)--(792,517);
\draw (432,552)--(463,552)--(463,628)--(452,628)--(452,592)--(432,592)--cycle;
\draw (737,622) rectangle (812,656);
\draw[thin] (737,622)--(762,656) (737,656)--(762,622) (762,622)--(787,656) (762,656)--(787,622) (787,622)--(812,656) (787,656)--(812,622);
\draw (792,460) rectangle (810,505);
\draw[thin] (792,460)--(810,505) (792,505)--(810,460);
\draw (792,505)--(814,505)--(814,580)--(792,580)--cycle;
\fill (792,527) rectangle (814,565);
\fill (137,530) rectangle (158,570);
\fill (463,575) rectangle (473,612);
\fill (440,555) rectangle (458,570);
\draw (125,682)--(157,682);
\draw[thin] (320,682)--(320,785);
\draw[thin] (455,682)--(455,785);
\draw[thin] (593,682)--(593,785);
\draw[thin] (757,700)--(757,785);
\draw (835,592)--(827,592) (835,650)--(827,650) (835,592)--(835,650);
\draw (835,598)--(899,598);
\draw (827,498)--(880,492)--(899,487);
\foreach \a/\b in {153/187,206/240,264/294,344/377,401/432,452/488,535/568,615/650,698/733,754/784,835/868}{\draw (\a,814)--(\a,866)--(\b,866)--(\b,814);}
\foreach \a/\b in {160/206,240/288,324/372,425/482,514/562,595/643,678/727,760/808,842/899}{\draw (\a,814)--(\a,785)--(\b,785)--(\b,814);}
\foreach \a/\b in {157/187,240/294,288/344,372/401,482/535,562/615,643/698,727/754,808/835}{\draw (\a,814)--(\b,814);}
\draw (868,814)--(899,814);
\draw (42,763)--(27,763) (42,708)--(27,708);
\draw (27,647)--(27,763) (42,763)--(42,814)--(72,814)--(72,785);
\draw (104,785)--(104,814)--(98,814)--(98,866)--(130,866)--(130,814)--(157,814);
\node[font=\arialf\fontsize{17}{17}\selectfont,text=white,inner sep=0pt] (u16) at (88,730) {16};
\end{scope}
\end{tikzpicture}
\end{document}
